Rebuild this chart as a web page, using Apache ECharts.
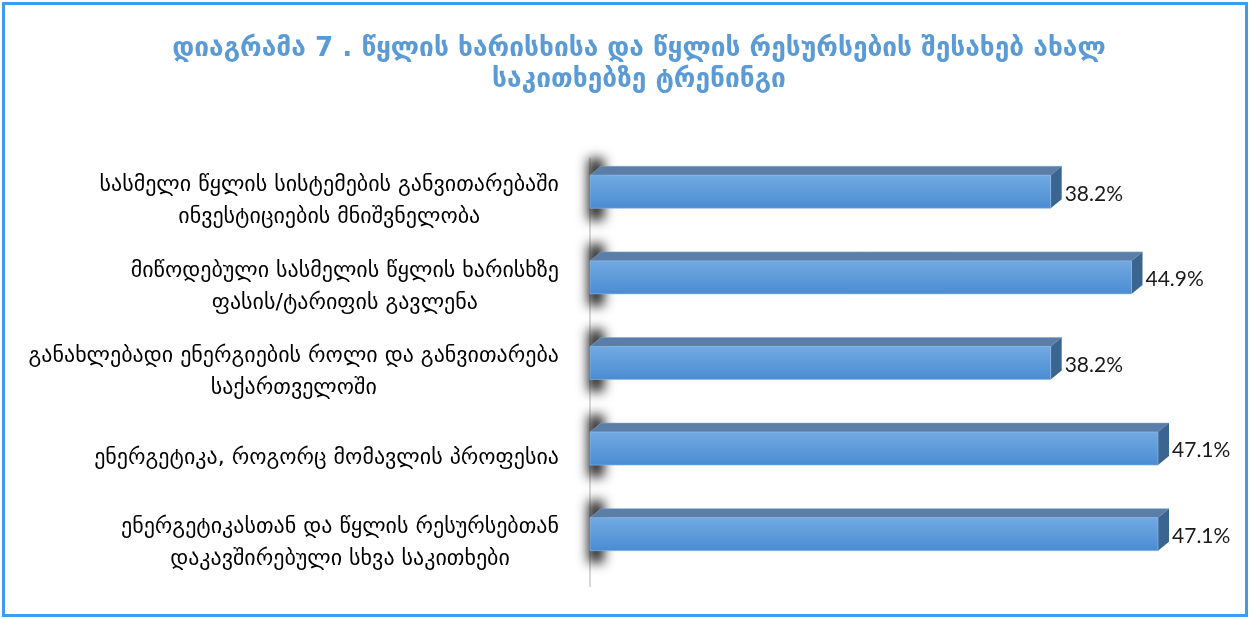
<!DOCTYPE html>
<html>
<head>
<meta charset="utf-8">
<script src="https://cdn.jsdelivr.net/npm/echarts@6/dist/echarts.min.js"></script>
<style>
html,body{margin:0;padding:0;background:#fff;}
#chart{width:1250px;height:619px;}
</style>
</head>
<body>
<div id="chart"></div>
<script>
var titleLines = ['დიაგრამა 7 . წყლის ხარისხისა და წყლის რესურსების შესახებ ახალ', 'საკითხებზე ტრენინგი'];
var categories = [
  'სასმელი წყლის სისტემების განვითარებაში\nინვესტიციების მნიშვნელობა',
  'მიწოდებული სასმელის წყლის ხარისხზე\nფასის/ტარიფის გავლენა',
  'განახლებადი ენერგიების როლი და განვითარება\nსაქართველოში',
  'ენერგეტიკა, როგორც მომავლის პროფესია',
  'ენერგეტიკასთან და წყლის რესურსებთან\nდაკავშირებული სხვა საკითხები'
];
var values = [38.2, 44.9, 38.2, 47.1, 47.1];

var chart = echarts.init(document.getElementById('chart'));
var DX = 11, DY = 9, BH = 33, LIFT = 9.5, FAR = 3000;

function renderItem(params, api) {
  var idx = api.value(0);
  var val = api.value(1);
  var p0 = api.coord([0, idx]);
  var p1 = api.coord([val, idx]);
  var x0 = p0[0], x1 = p1[0], cy = p0[1] - LIFT;
  var fy0 = cy - BH / 2, fy1 = cy + BH / 2;
  return {
    type: 'group',
    children: [
      { type: 'rect', shape: { x: x0 - 2 - FAR, y: fy0 - DY - 8, width: DX + 5, height: BH + DY + 20 },
        style: { fill: '#000', shadowBlur: 12, shadowOffsetX: FAR, shadowColor: 'rgba(0,0,0,0.85)' } },
      { type: 'polygon', shape: { points: [[x0, fy0], [x0 + DX, fy0 - DY], [x1 + DX, fy0 - DY], [x1, fy0]] },
        style: { fill: '#5a7ea8', stroke: '#7fa3cc', lineWidth: 0.6 } },
      { type: 'polygon', shape: { points: [[x1, fy0], [x1 + DX, fy0 - DY], [x1 + DX, fy1 - DY], [x1, fy1]] },
        style: { fill: '#3b6591' } },
      { type: 'rect', shape: { x: x0, y: fy0, width: x1 - x0, height: BH },
        style: { fill: new echarts.graphic.LinearGradient(0, 0, 0, 1, [
          { offset: 0, color: '#72aae2' }, { offset: 1, color: '#4a8cd2' }]),
          stroke: '#8fbbe8', lineWidth: 0.6 } },
      { type: 'text', style: { text: val.toFixed(1) + '%', x: x1 + DX + 3, y: cy + 2,
          verticalAlign: 'middle', align: 'left', fill: '#1a1a1a',
          font: '21px Lato, "Open Sans", sans-serif' } }
    ]
  };
}

var option = {
  backgroundColor: '#ffffff',
  animation: false,
  title: {
    text: titleLines.join('\n'),
    left: 634, top: 29, textAlign: 'center',
    textStyle: { color: '#5b9bd5', fontFamily: 'DejaVu Sans', fontWeight: 'bold', fontSize: 26.3, lineHeight: 31 }
  },
  graphic: [
    { type: 'rect', shape: { x: 3.5, y: 3.5, width: 1243, height: 612 },
      style: { fill: 'none', stroke: '#3c9cf0', lineWidth: 3 }, z: 100 }
  ],
  grid: { left: 590, right: 57, top: 158.5, bottom: 32.5 },
  xAxis: { type: 'value', min: 0, max: 50, show: false },
  yAxis: {
    type: 'category', data: categories, inverse: true, offset: 10,
    axisLine: { show: true, lineStyle: { color: '#d9d9d9', width: 2 } },
    axisTick: { show: false },
    axisLabel: {
      margin: 21, align: 'right', color: '#000', fontFamily: 'DejaVu Sans',
      fontSize: 22, lineHeight: 32,
      formatter: function (v) {
        return v.split('\n').map(function (l) { return '{c|' + l + '}'; }).join('\n');
      },
      rich: { c: { align: 'center', fontFamily: 'DejaVu Sans', fontSize: 22, lineHeight: 32, color: '#000' } }
    }
  },
  series: [{
    type: 'custom', renderItem: renderItem,
    data: values.map(function (v, i) { return [i, v]; }),
    encode: { x: 1, y: 0 }
  }]
};
chart.setOption(option);
</script>
</body>
</html>
